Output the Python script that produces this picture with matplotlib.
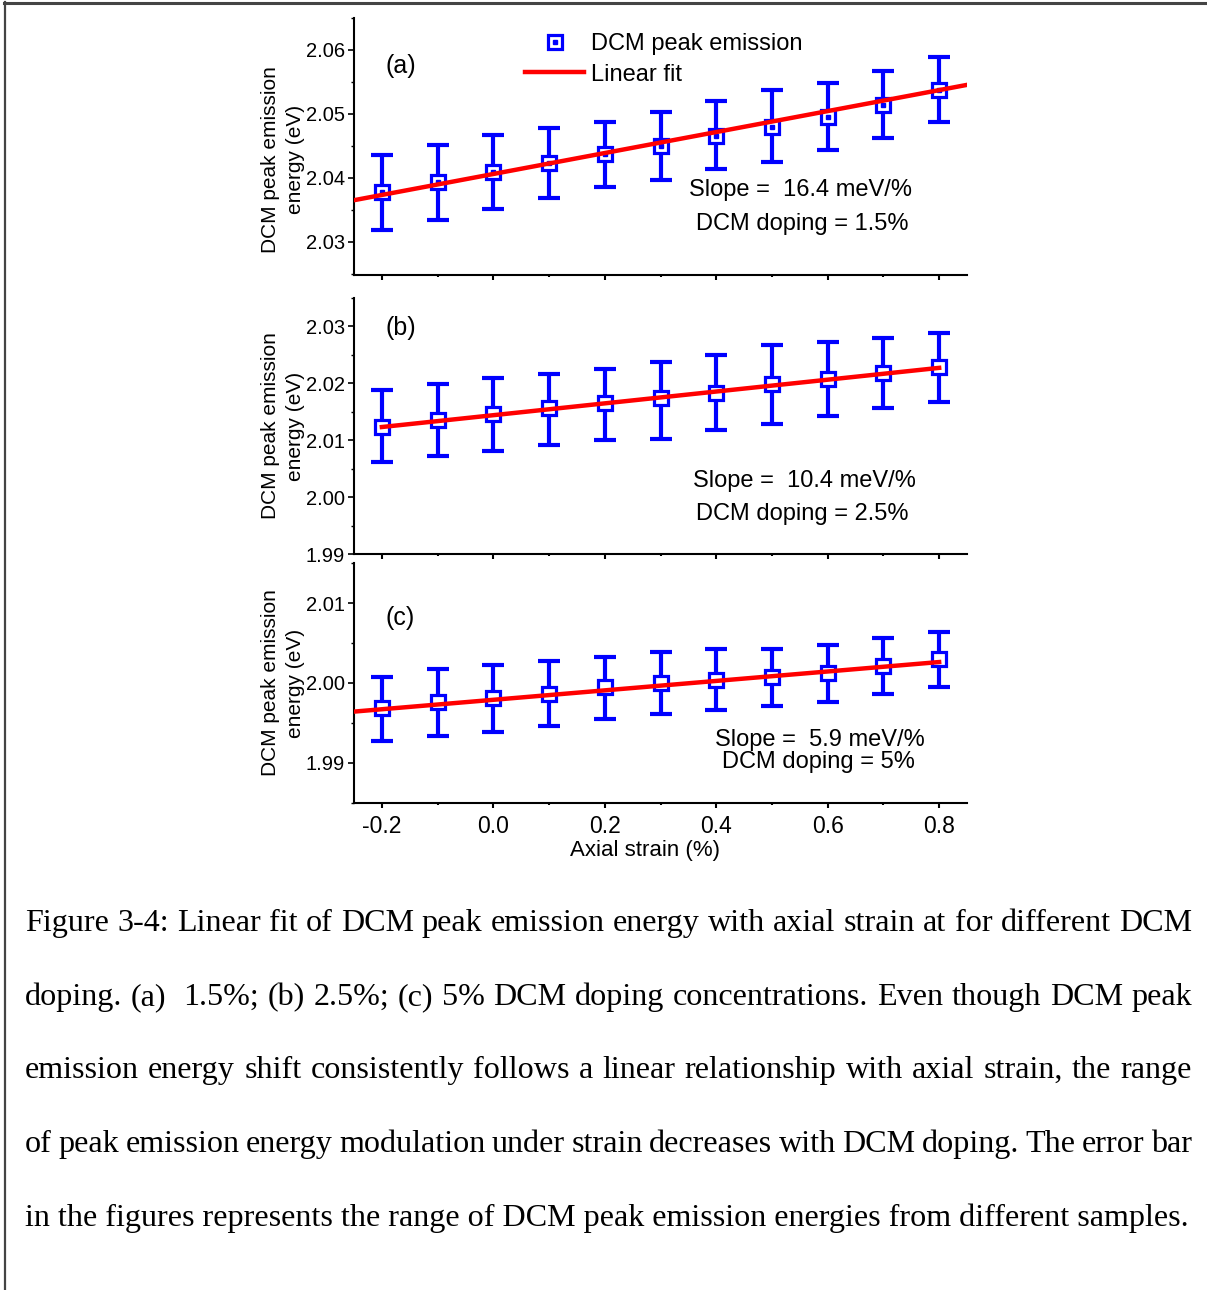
import matplotlib
matplotlib.use('Agg')
import matplotlib.pyplot as plt
from matplotlib.ticker import MultipleLocator
from matplotlib.lines import Line2D
from matplotlib.legend_handler import HandlerTuple

plt.rcParams['font.family'] = ['Liberation Sans', 'DejaVu Sans']

strain = [-0.2, -0.1, 0.0, 0.1, 0.2, 0.3, 0.4, 0.5, 0.6, 0.7, 0.8]

# (a) 1.5% DCM
e_a = [2.0378, 2.0393, 2.0409, 2.0423, 2.0437, 2.0450, 2.0466, 2.0480, 2.0495, 2.0514, 2.0538]
hi_a = [2.0436, 2.0451, 2.0467, 2.0478, 2.0487, 2.0503, 2.0520, 2.0537, 2.0549, 2.0567, 2.0589]
lo_a = [2.0319, 2.0334, 2.0352, 2.0369, 2.0386, 2.0397, 2.0414, 2.0424, 2.0443, 2.0462, 2.0487]
# (b) 2.5% DCM
e_b = [2.0123, 2.0136, 2.0146, 2.0156, 2.0165, 2.0174, 2.0183, 2.0198, 2.0208, 2.0218, 2.0229]
hi_b = [2.0188, 2.0199, 2.0209, 2.0216, 2.0226, 2.0237, 2.0249, 2.0267, 2.0273, 2.0280, 2.0289]
lo_b = [2.0062, 2.0073, 2.0081, 2.0092, 2.0101, 2.0103, 2.0118, 2.0129, 2.0142, 2.0156, 2.0167]
# (c) 5% DCM
e_c = [1.9969, 1.9976, 1.9981, 1.9986, 1.9995, 2.0000, 2.0004, 2.0007, 2.0012, 2.0021, 2.0030]
hi_c = [2.0008, 2.0017, 2.0023, 2.0028, 2.0032, 2.0039, 2.0042, 2.0042, 2.0047, 2.0056, 2.0064]
lo_c = [1.9927, 1.9934, 1.9939, 1.9946, 1.9955, 1.9961, 1.9966, 1.9971, 1.9976, 1.9986, 1.9995]

# linear fits: slope (eV/%), intercept (eV), x range
fit_a = (0.0164, 2.0406, -0.25, 0.85)
fit_b = (0.0104, 2.0144, -0.2, 0.8)
fit_c = (0.0059, 1.9979, -0.25, 0.8)

panels = [
    ('(a)', e_a, hi_a, lo_a, fit_a, (2.0248, 2.065), 0.01, 'Slope =  16.4 meV/%', 'DCM doping = 1.5%'),
    ('(b)', e_b, hi_b, lo_b, fit_b, (1.99, 2.035), 0.01, 'Slope =  10.4 meV/%', 'DCM doping = 2.5%'),
    ('(c)', e_c, hi_c, lo_c, fit_c, (1.985, 2.015), 0.01, 'Slope =  5.9 meV/%', 'DCM doping = 5%'),
]

W, H = 1207, 1290
fig = plt.figure(figsize=(W / 100, H / 100), dpi=100)

# axes boxes in pixels: top, bottom
boxes = [(18, 275), (298, 554), (563, 803)]
x0, x1 = 354, 967

# text placement (axes fractions)
lab_pos = [(0.077, 0.813), (0.077, 0.883), (0.075, 0.771)]
txt_pos = [((0.729, 0.331), (0.732, 0.198)), ((0.734, 0.285), (0.732, 0.156)),
           ((0.760, 0.2625), (0.757, 0.171))]
ylab_y = [0.45, 0.5, 0.5]

blue = '#0000FF'
red = '#FF0000'

for i, (lab, e, hi, lo, fit, ylim, step, t1, t2) in enumerate(panels):
    top, bot = boxes[i]
    ax = fig.add_axes([x0 / W, 1 - bot / H, (x1 - x0) / W, (bot - top) / H])
    yerr = [[m - l for m, l in zip(e, lo)], [h - m for m, h in zip(e, hi)]]
    ax.errorbar(strain, e, yerr=yerr, fmt='none', ecolor=blue, elinewidth=3,
                capsize=8, capthick=3, zorder=2)
    sq, = ax.plot(strain, e, 's', ms=10, mfc='white', mec=blue, mew=2.3,
                  ls='none', zorder=3)
    handles = [sq]
    if i == 0:
        dot, = ax.plot(strain, e, 's', ms=2.2, color=blue, ls='none', zorder=3)
        handles = [(sq, dot)]
    k, b, xa, xb = fit
    fl, = ax.plot([xa, xb], [k * xa + b, k * xb + b], color=red, lw=3.2, zorder=4)

    ax.set_xlim(-0.25, 0.85)
    ax.set_ylim(*ylim)
    ax.xaxis.set_major_locator(MultipleLocator(0.2))
    ax.xaxis.set_minor_locator(MultipleLocator(0.1))
    ax.yaxis.set_major_locator(MultipleLocator(step))
    ax.yaxis.set_minor_locator(MultipleLocator(step / 2))
    ax.yaxis.set_major_formatter(plt.FormatStrFormatter('%.2f'))
    ax.xaxis.set_major_formatter(plt.FormatStrFormatter('%.1f'))
    for s in ['top', 'right']:
        ax.spines[s].set_visible(False)
    for s in ['left', 'bottom']:
        ax.spines[s].set_linewidth(1.5)
    ax.tick_params(axis='y', which='major', direction='out', length=4.5, width=1.2,
                   labelsize=14.5, pad=2)
    ax.tick_params(axis='y', which='minor', direction='out', length=2.2, width=1.0)
    ax.tick_params(axis='x', which='major', direction='out', length=3.8, width=1.5,
                   labelsize=16.5, pad=5, labelbottom=(i == 2))
    ax.tick_params(axis='x', which='minor', direction='out', length=1.6, width=1.5)
    ax.patch.set_alpha(0)

    ax.text(-0.116, ylab_y[i], 'DCM peak emission\nenergy (eV)', transform=ax.transAxes,
            rotation=90, ha='center', va='center', fontsize=15, linespacing=1.45)
    ax.text(lab_pos[i][0], lab_pos[i][1], lab, transform=ax.transAxes,
            ha='center', va='center', fontsize=18)
    (p1, p2) = txt_pos[i]
    ax.text(p1[0], p1[1], t1, transform=ax.transAxes, ha='center', va='center', fontsize=17)
    ax.text(p2[0], p2[1], t2, transform=ax.transAxes, ha='center', va='center', fontsize=17)

    if i == 0:
        ax.legend([handles[0], fl], ['DCM peak emission', 'Linear fit'],
                  handler_map={tuple: HandlerTuple(ndivide=1)},
                  loc='upper left', bbox_to_anchor=(0.279, 0.94), frameon=False,
                  fontsize=17, handlelength=2.5, handletextpad=0.3, labelspacing=0.35,
                  borderpad=0, borderaxespad=0)
    if i == 2:
        ax.set_xlabel('Axial strain (%)', fontsize=16, labelpad=1, x=0.475)

# page border (left and top)
fig.add_artist(Line2D([5 / W, 5 / W], [0, 1 - 2 / H], color='#444444', lw=1.6))
fig.add_artist(Line2D([4 / W, 1206 / W], [1 - 2.5 / H, 1 - 2.5 / H], color='#444444', lw=2.2))

# caption
caption = [
    'Figure 3-4: Linear fit of DCM peak emission energy with axial strain at for different DCM',
    'doping. (a)  1.5%; (b) 2.5%; (c) 5% DCM doping concentrations. Even though DCM peak',
    'emission energy shift consistently follows a linear relationship with axial strain, the range',
    'of peak emission energy modulation under strain decreases with DCM doping. The error bar',
    'in the figures represents the range of DCM peak emission energies from different samples.',
]
baselines = [931, 1005, 1078, 1152, 1226]
cap_fs = 23.1
cap_font = 'Liberation Serif'
left_px, right_px = 25, 1192
r = fig.canvas.get_renderer()
for j, line in enumerate(caption):
    yb = 1 - baselines[j] / H
    if j == len(caption) - 1:
        fig.text(left_px / W, yb, line, fontsize=cap_fs, family=cap_font, va='baseline')
        continue
    words = line.split(' ')
    objs = [fig.text(0, yb, w, fontsize=cap_fs, family=cap_font, va='baseline') for w in words]
    widths = [o.get_window_extent(r).width if w else 0 for o, w in zip(objs, words)]
    gap = (right_px - left_px - sum(widths)) / (len(words) - 1)
    x = left_px
    for o, wd in zip(objs, widths):
        o.set_x(x / W)
        x += wd + gap

fig.savefig('out.png', dpi=100)
